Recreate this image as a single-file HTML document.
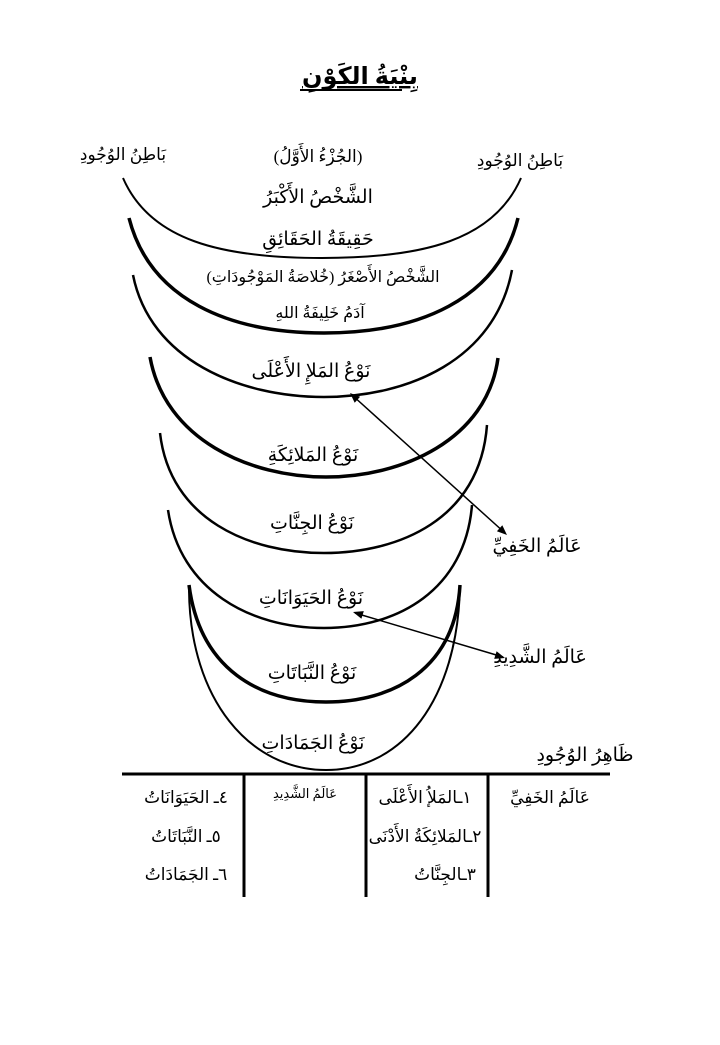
<!DOCTYPE html>
<html><head><meta charset="utf-8"><style>
html,body{margin:0;padding:0;background:#fff;}
svg text{font-family:"Liberation Serif","Noto Serif CJK SC","DejaVu Sans",serif;fill:#000;}
</style></head><body>
<svg width="720" height="1040" viewBox="0 0 720 1040" xmlns="http://www.w3.org/2000/svg">
<g fill="none" stroke="#000">
<path d="M123,178 C150,240 220,258 322,258 C424,258 494,240 521,178" stroke-width="2"/>
<path d="M129,218 C150,300 230,333 324,333 C418,333 498,300 518,218" stroke-width="3.5"/>
<path d="M133,275 C150,360 240,397 324,397 C408,397 495,360 512,270" stroke-width="2.5"/>
<path d="M150,357 C165,440 250,477 326,477 C402,477 487,440 498,358" stroke-width="3.5"/>
<path d="M160,433 C170,520 250,553 324,553 C398,553 480,520 487,425" stroke-width="2.5"/>
<path d="M168,510 C180,590 250,628 324,628 C398,628 465,590 472,505" stroke-width="2.5"/>
<path d="M189,585 C200,670 260,702 326,702 C392,702 455,670 460,585" stroke-width="3.5"/>
<path d="M189,590 C190,700 250,770 326,770 C402,770 458,700 460,585" stroke-width="2"/>
<line x1="352" y1="395" x2="505" y2="533" stroke-width="1.5"/>
<line x1="355" y1="613" x2="503" y2="657" stroke-width="1.5"/>
<line x1="122" y1="774" x2="610" y2="774" stroke-width="3"/>
<line x1="244" y1="774" x2="244" y2="897" stroke-width="3"/>
<line x1="366" y1="774" x2="366" y2="897" stroke-width="3"/>
<line x1="488" y1="774" x2="488" y2="897" stroke-width="3"/>
</g>
<g fill="#000" stroke="none">
<polygon points="350,393 354.7,402.7 360.1,396.7"/>
<polygon points="507,535 496.9,531.3 502.3,525.3"/>
<polygon points="353,612 361.4,618.7 363.8,611.1"/>
<polygon points="505,658 494.2,658.9 496.6,651.3"/>
</g>
<g direction="rtl" text-anchor="middle" font-size="17">
<text x="360" y="84" font-size="24" font-weight="bold" text-decoration="underline">بِنْيَةُ الكَوْنِ</text>
<line x1="300" y1="90" x2="402" y2="90" stroke="#000" stroke-width="2"/>
<text x="123" y="160">بَاطِنُ الوُجُودِ</text>
<text x="520" y="166">بَاطِنُ الوُجُودِ</text>
<text x="318" y="162">(الجُزْءُ الأَوَّلُ)</text>
<text x="318" y="203" font-size="19">الشَّخْصُ الأَكْبَرُ</text>
<text x="318" y="245" font-size="19">حَقِيقَةُ الحَقَائِقِ</text>
<text x="323" y="282" font-size="16">الشَّخْصُ الأَصْغَرُ (خُلاصَةُ المَوْجُودَاتِ)</text>
<text x="320" y="318" font-size="16">آدَمُ خَلِيفَةُ اللهِ</text>
<text x="311" y="377" font-size="19">نَوْعُ المَلإِ الأَعْلَى</text>
<text x="313" y="461" font-size="19">نَوْعُ المَلائِكَةِ</text>
<text x="312" y="529" font-size="19">نَوْعُ الجِنَّاتِ</text>
<text x="311" y="604" font-size="19">نَوْعُ الحَيَوَانَاتِ</text>
<text x="312" y="679" font-size="19">نَوْعُ النَّبَاتَاتِ</text>
<text x="313" y="749" font-size="19">نَوْعُ الجَمَادَاتِ</text>
<text x="537" y="552" font-size="19">عَالَمُ الخَفِيِّ</text>
<text x="540" y="663" font-size="19">عَالَمُ الشَّدِيدِ</text>
<text x="585" y="761" font-size="19">ظَاهِرُ الوُجُودِ</text>
<text x="550" y="803">عَالَمُ الخَفِيِّ</text>
<text x="305" y="798" font-size="13">عَالَمُ الشَّدِيدِ</text>
<text x="425" y="803">١ـالمَلإُ الأَعْلَى</text>
<text x="425" y="842">٢ـالمَلائِكَةُ الأَدْنَى</text>
<text x="445" y="880">٣ـالجِنَّاتُ</text>
<text x="186" y="803">٤ـ الحَيَوَانَاتُ</text>
<text x="186" y="842">٥ـ النَّبَاتَاتُ</text>
<text x="186" y="880">٦ـ الجَمَادَاتُ</text>
</g>
</svg>
</body></html>
